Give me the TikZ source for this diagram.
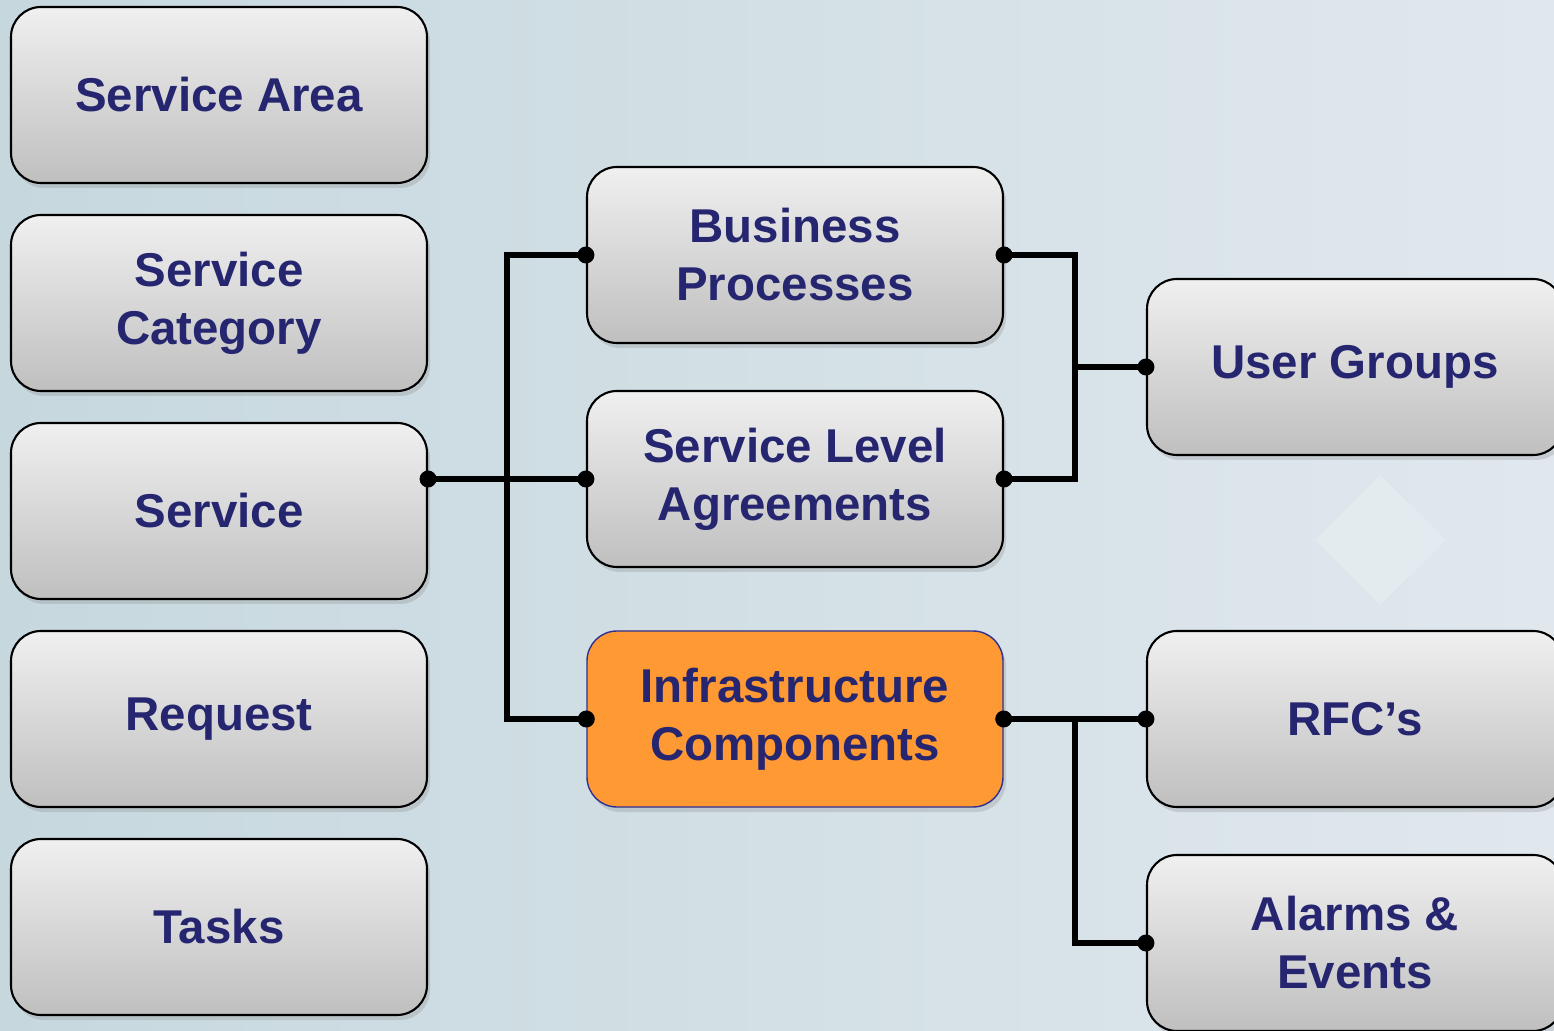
\documentclass[tikz,border=0pt]{standalone}
\usepackage{fontspec}
\setmainfont{Liberation Sans}
\usetikzlibrary{shadows}

\definecolor{boxtext}{RGB}{38,38,112}
\definecolor{infrafill}{RGB}{255,153,51}
\definecolor{infraline}{RGB}{46,49,146}
\definecolor{bgleft}{RGB}{198,216,222}
\definecolor{bgright}{RGB}{224,232,238}

\tikzset{
  itembox/.style={draw=black, line width=1.2pt, rounded corners=0.6cm,
    minimum width=8.32cm, minimum height=3.52cm, align=center,
    top color=gray!12, bottom color=gray!50,
    drop shadow={opacity=0.25, shadow xshift=0.06cm, shadow yshift=-0.1cm},
    font=\fontsize{27}{33}\selectfont\bfseries, text=boxtext},
  hotbox/.style={itembox, draw=infraline, line width=0.8pt, fill=infrafill,
    top color=infrafill, bottom color=infrafill},
  link/.style={black, line width=3pt},
  dot/.style={circle, fill=black, inner sep=0pt, minimum size=0.34cm}
}

\begin{document}
\begin{tikzpicture}

\useasboundingbox (0, 0) rectangle (31.08, 20.6);
\shade[left color=bgleft, right color=bgright] (0, 0) rectangle (31.08, 20.6);
\fill[white, opacity=0.2] (27.6, 8.5) -- (28.9, 9.8) -- (27.6, 11.1) -- (26.3, 9.8) -- cycle;

% left column
\node (area) at (4.38, 18.7) [itembox] {Service Area};
\node (cat) at (4.38, 14.54) [itembox] {Service\\Category};
\node (svc) at (4.38, 10.38) [itembox] {Service};
\node (req) at (4.38, 6.22) [itembox] {Request};
\node (task) at (4.38, 2.06) [itembox] {Tasks};

% middle column
\node (bp) at (15.9, 15.5) [itembox] {Business\\Processes};
\node (sla) at (15.9, 11.02) [itembox] {Service Level\\Agreements};
\node (infra) at (15.9, 6.22) [hotbox] {Infrastructure\\Components};

% right column
\node (ug) at (27.1, 13.26) [itembox] {User Groups};
\node (rfc) at (27.1, 6.22) [itembox] {RFC’s};
\node (alarm) at (27.1, 1.74) [itembox] {Alarms \&\\Events};

\coordinate (lbus) at (10.14, 0);
\coordinate (rbus) at (21.5, 0);

\draw[link] (sla.west) -- (sla.west -| svc.east);
\draw[link] (bp.west) -- (bp.west -| lbus) -- (infra.west -| lbus) -- (infra.west);
\draw[link] (bp.east) -- (bp.east -| rbus) -- (sla.east -| rbus) -- (sla.east);
\draw[link] (ug.west) -- (ug.west -| rbus);
\draw[link] (infra.east) -- (rfc.west);
\draw[link] (infra.east -| rbus) -- (alarm.west -| rbus) -- (alarm.west);

\node at (sla.west -| svc.east) [dot] {};
\node at (bp.west) [dot] {};
\node at (sla.west) [dot] {};
\node at (infra.west) [dot] {};
\node at (bp.east) [dot] {};
\node at (sla.east) [dot] {};
\node at (ug.west) [dot] {};
\node at (infra.east) [dot] {};
\node at (rfc.west) [dot] {};
\node at (alarm.west) [dot] {};

\end{tikzpicture}
\end{document}
